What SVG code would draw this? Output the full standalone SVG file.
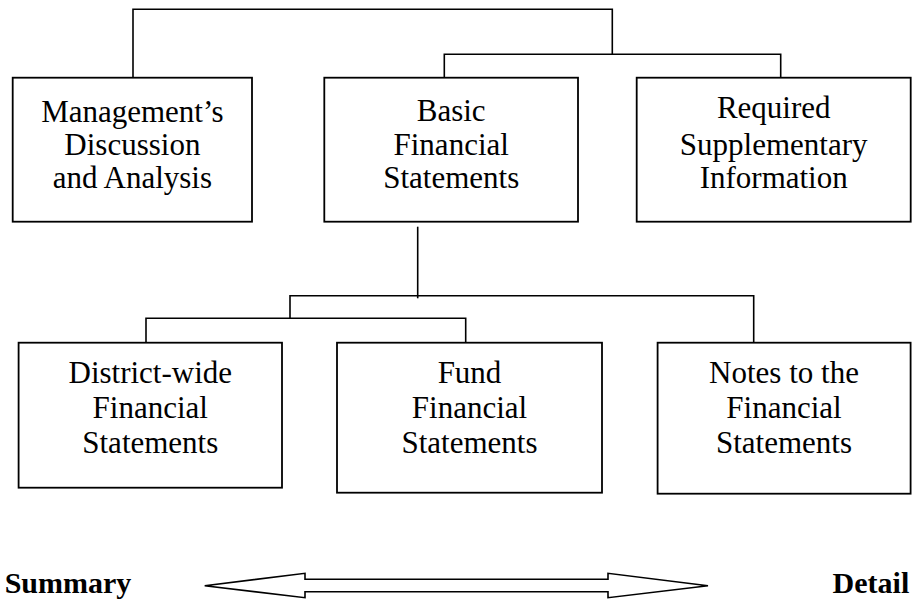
<svg xmlns="http://www.w3.org/2000/svg" width="912" height="600" viewBox="0 0 912 600">
<style>
.box{fill:#fff;stroke:#000;stroke-width:1.8}
.ln{fill:none;stroke:#000;stroke-width:1.6}
.t{font-family:"Liberation Serif",serif;font-size:31px;fill:#000;text-anchor:middle}
.b{font-family:"Liberation Serif",serif;font-size:30px;font-weight:bold;fill:#000}
</style>
<rect width="912" height="600" fill="#fff"/>
<g id="connectors">
<path class="ln" d="M133,78 V9.3 H612.3 V54.3"/>
<path class="ln" d="M444.3,78 V54.3 H780.7 V78"/>
<path class="ln" d="M417.7,226.7 V298.3"/>
<path class="ln" d="M290,318.3 V295.7 H753.7 V343"/>
<path class="ln" d="M146,343 V318.3 H465.7 V343"/>
</g>
<g id="mda">
<rect class="box" x="12.7" y="77.7" width="239.3" height="144"/>
<text class="t" x="132.4" y="122"><tspan x="132.4">Management’s</tspan><tspan x="132.4" y="154.5">Discussion</tspan><tspan x="132.4" y="188">and Analysis</tspan></text>
</g>
<g id="basic">
<rect class="box" x="324.3" y="77.7" width="253.7" height="144"/>
<text class="t" x="451.2" y="121"><tspan x="451.2">Basic</tspan><tspan x="451.2" y="154.5">Financial</tspan><tspan x="451.2" y="188">Statements</tspan></text>
</g>
<g id="rsi">
<rect class="box" x="636.7" y="77.7" width="274" height="144"/>
<text class="t" x="773.7" y="118"><tspan x="773.7">Required</tspan><tspan x="773.7" y="154.5">Supplementary</tspan><tspan x="773.7" y="188">Information</tspan></text>
</g>
<g id="district">
<rect class="box" x="18.6" y="342.7" width="263.4" height="145"/>
<text class="t" x="150.3" y="382.7"><tspan x="150.3">District-wide</tspan><tspan x="150.3" y="418">Financial</tspan><tspan x="150.3" y="453">Statements</tspan></text>
</g>
<g id="fund">
<rect class="box" x="337" y="342.7" width="265" height="150"/>
<text class="t" x="469.5" y="382.7"><tspan x="469.5">Fund</tspan><tspan x="469.5" y="418">Financial</tspan><tspan x="469.5" y="453">Statements</tspan></text>
</g>
<g id="notes">
<rect class="box" x="657.6" y="342.7" width="253" height="151"/>
<text class="t" x="784" y="382.7"><tspan x="784">Notes to the</tspan><tspan x="784" y="418">Financial</tspan><tspan x="784" y="453">Statements</tspan></text>
</g>
<g id="scale">
<text class="b" x="4.7" y="593">Summary</text>
<polygon class="ln" points="204.7,585.7 305,573.3 305,579.3 608,579.3 608,573.3 708,585.7 608,597.7 608,591.7 305,591.7 305,597.7"/>
<text class="b" x="832.6" y="593">Detail</text>
</g>
</svg>
